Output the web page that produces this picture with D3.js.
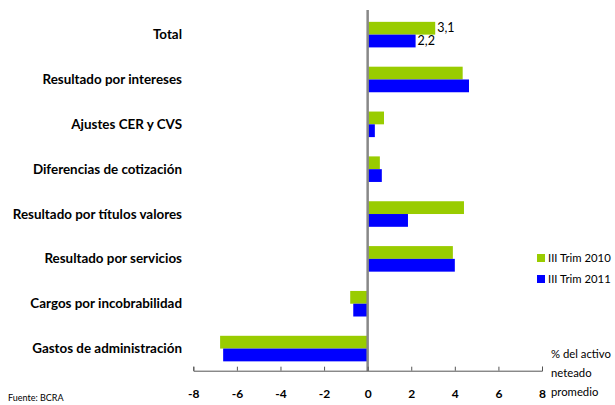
<!DOCTYPE html>
<html>
<head>
<meta charset="utf-8">
<script src="https://cdn.jsdelivr.net/npm/d3@7"></script>
<style>
  body { margin: 0; background: #fff; }
  svg { display: block; font-family: Lato, "Open Sans", sans-serif; }
</style>
</head>
<body>
<svg width="615" height="405"></svg>
<script>
const categories = [
    "Total",
    "Resultado por intereses",
    "Ajustes CER y CVS",
    "Diferencias de cotización",
    "Resultado por títulos valores",
    "Resultado por servicios",
    "Cargos por incobrabilidad",
    "Gastos de administración"
];
const seriesNames = ["III Trim 2010", "III Trim 2011"];
const trim2010 = [3.1, 4.36, 0.75, 0.56, 4.42, 3.91, -0.8, -6.77];
const trim2011 = [2.2, 4.65, 0.33, 0.65, 1.85, 4.0, -0.66, -6.63];
const xTicks = [-8, -6, -4, -2, 0, 2, 4, 6, 8];
const axisTitle = ["% del activo", "neteado", "promedio"];
const colors = ["#99cc00", "#0000ff"];

const svg = d3.select("svg");

const x = d3.scaleLinear().domain([-8, 8]).range([193.3, 542]);
const y0 = d3.scaleBand().domain(categories).range([12.2, 371])
    .paddingInner(0.43).paddingOuter(0.215);
const y1 = d3.scaleBand().domain(seriesNames).range([0, y0.bandwidth()]);
const color = d3.scaleOrdinal().domain(seriesNames).range(colors);

const rows = categories.map((c, i) => ({ cat: c, vals: [trim2010[i], trim2011[i]] }));

// bars
const groups = svg.selectAll(".grp")
    .data(rows)
    .enter().append("g")
    .attr("class", "grp")
    .attr("transform", d => `translate(0,${y0(d.cat)})`);

groups.selectAll("rect")
    .data(d => d.vals.map((v, j) => ({ s: seriesNames[j], v: v })))
    .enter().append("rect")
    .attr("x", d => x(Math.min(0, d.v)))
    .attr("width", d => Math.abs(x(d.v) - x(0)))
    .attr("y", d => y1(d.s))
    .attr("height", y1.bandwidth())
    .attr("fill", d => color(d.s));

// value labels on Total only
const tot = rows[0];
tot.vals.forEach((v, j) => {
    svg.append("text")
        .attr("x", x(v) + 2)
        .attr("y", y0(tot.cat) + y1(seriesNames[j]) + y1.bandwidth() / 2 + 4)
        .style("font-size", "12.5px")
        .style("fill", "#000")
        .text(d3.format(".1f")(v).replace(".", ","));
});

// zero line
svg.append("line")
    .attr("x1", x(0)).attr("x2", x(0))
    .attr("y1", 10).attr("y2", 371)
    .attr("stroke", "#888")
    .attr("stroke-width", 2.5);

// x axis
const xAxis = svg.append("g")
    .attr("transform", "translate(0,370.7)")
    .call(d3.axisTop(x).tickValues(xTicks).tickSize(4).tickFormat(d => String(d)));
xAxis.select(".domain").attr("stroke", "#555");
xAxis.selectAll(".tick line").attr("stroke", "#555");
xAxis.selectAll(".tick text")
    .attr("y", 27)
    .attr("dy", 0)
    .style("font-size", "12px")
    .style("font-weight", "bold")
    .style("font-family", "Lato, sans-serif")
    .style("fill", "#000");

// category labels
svg.selectAll(".cat")
    .data(categories)
    .enter().append("text")
    .attr("class", "cat")
    .attr("x", 182)
    .attr("y", d => y0(d) + y0.bandwidth() / 2 + 4.5)
    .style("text-anchor", "end")
    .style("font-size", "13.4px")
    .style("font-weight", "bold")
    .style("fill", "#000")
    .text(d => d);

// legend
const legend = svg.selectAll(".legend")
    .data(seriesNames)
    .enter().append("g")
    .attr("class", "legend")
    .attr("transform", (d, i) => `translate(537,${254 + i * 21})`);

legend.append("rect")
    .attr("width", 8).attr("height", 8)
    .attr("fill", d => color(d));

legend.append("text")
    .attr("x", 11).attr("y", 8)
    .style("font-size", "11.3px")
    .style("fill", "#000")
    .text(d => d);

// axis title
svg.selectAll(".atitle")
    .data(axisTitle)
    .enter().append("text")
    .attr("class", "atitle")
    .attr("x", 551)
    .attr("y", (d, i) => 358 + i * 19)
    .style("font-size", "11.3px")
    .style("fill", "#000")
    .text(d => d);

svg.append("text")
    .attr("x", 8).attr("y", 401)
    .style("font-size", "9px")
    .style("fill", "#000")
    .text("Fuente: BCRA");
</script>
</body>
</html>
